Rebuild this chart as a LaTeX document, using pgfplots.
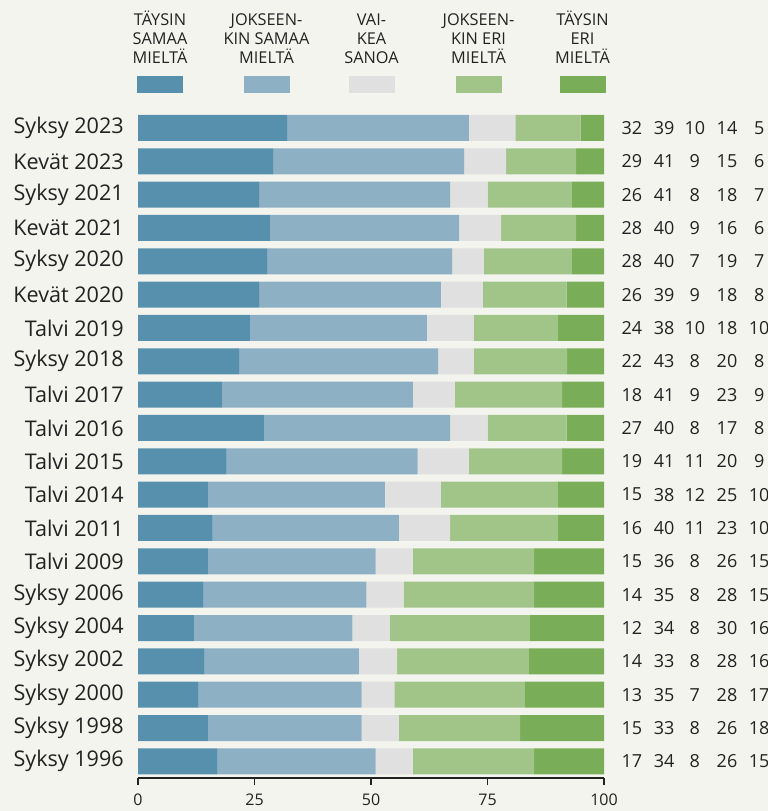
\documentclass[border=0pt]{standalone}
\usepackage{fontspec}
\setmainfont{Open Sans}
\usepackage{pgfplots}
\pgfplotsset{compat=1.18}
\usepackage{pgfplotstable}
\definecolor{bg}{HTML}{F4F4EF}
\definecolor{c1}{HTML}{5690AD}
\definecolor{c2}{HTML}{8DB0C4}
\definecolor{c3}{HTML}{E0E0E0}
\definecolor{c4}{HTML}{A1C589}
\definecolor{c5}{HTML}{79AD57}
\definecolor{txt}{HTML}{222222}

% y: 0 = Syksy 1996 (bottom) ... 19 = Syksy 2023 (top)
\pgfplotstableread{
y a b c d e
0 17 34 8 26 15
1 15 33 8 26 18
2 13 35 7 28 17
3 14.2 33.2 8.2 28.3 16.1
4 12 34 8 30 16
5 14 35 8 28 15
6 15 36 8 26 15
7 16 40 11 23 10
8 15 38 12 25 10
9 19 41 11 20 9
10 27 40 8 17 8
11 18 41 9 23 9
12 21.7 42.7 7.7 20 7.9
13 24 38 10 18 10
14 26 39 9 18 8
15 27.7 39.7 6.8 18.9 6.9
16 28.3 40.6 9 16.1 6
17 26 41 8 18 7
18 29 41 9 15 6
19 32 39 10 14 5
}\data

\newcommand\rl[6]{%
  \node[font=\fontsize{18}{20}\selectfont, text=txt] at (axis cs:106,#1) {#2};
  \node[font=\fontsize{18}{20}\selectfont, text=txt] at (axis cs:112.9,#1) {#3};
  \node[font=\fontsize{18}{20}\selectfont, text=txt] at (axis cs:119.5,#1) {#4};
  \node[font=\fontsize{18}{20}\selectfont, text=txt] at (axis cs:126.4,#1) {#5};
  \node[font=\fontsize{18}{20}\selectfont, text=txt] at (axis cs:133.3,#1) {#6};
}
\newcommand\leg[5]{%
  \node[anchor=base, font=\fontsize{16.3}{19}\selectfont, text=txt, inner sep=0pt] at (#1,-25) {#3};
  \node[anchor=base, font=\fontsize{16.3}{19}\selectfont, text=txt, inner sep=0pt] at (#1,-44.5) {#4};
  \node[anchor=base, font=\fontsize{16.3}{19}\selectfont, text=txt, inner sep=0pt] at (#1,-63.5) {#5};
  \fill[#2] (#1-23,-76) rectangle (#1+23,-92.7);
}

\begin{document}
\begin{tikzpicture}[x=1pt,y=1pt]
\useasboundingbox (0,0) rectangle (768,-811);
\fill[bg] (0,0) rectangle (768,-811);
\begin{axis}[
  at={(138pt,-778pt)}, anchor=south west,
  scale only axis, width=466pt, height=666.7pt,
  xbar stacked, bar width=26pt,
  xmin=0, xmax=100, ymin=-0.5, ymax=19.5,
  xtick={0,25,50,75,100},
  ytick={0,...,19},
  yticklabels={Syksy 1996, Syksy 1998, Syksy 2000, Syksy 2002, Syksy 2004, Syksy 2006, Talvi 2009, Talvi 2011, Talvi 2014, Talvi 2015, Talvi 2016, Talvi 2017, Syksy 2018, Talvi 2019, Kevät 2020, Syksy 2020, Kevät 2021, Syksy 2021, Kevät 2023, Syksy 2023},
  axis x line*=bottom, axis y line*=left,
  y axis line style={draw=none},
  x axis line style={draw=txt, line width=1.2pt},
  ytick style={draw=none},
  xtick align=outside,
  major tick length=7pt,
  xtick style={draw=txt, line width=1.2pt},
  yticklabel style={font=\fontsize{21.6}{24}\selectfont, text=txt, inner sep=0pt, xshift=-14pt},
  xticklabel style={font=\fontsize{16}{18}\selectfont, text=txt, inner sep=0pt, yshift=-9pt},
  /pgf/number format/assume math mode=true,
  clip=false,
]
\addplot[fill=c1, draw=none] table[x=a, y=y] {\data};
\addplot[fill=c2, draw=none] table[x=b, y=y] {\data};
\addplot[fill=c3, draw=none] table[x=c, y=y] {\data};
\addplot[fill=c4, draw=none] table[x=d, y=y] {\data};
\addplot[fill=c5, draw=none] table[x=e, y=y] {\data};
\rl{19}{32}{39}{10}{14}{5}
\rl{18}{29}{41}{9}{15}{6}
\rl{17}{26}{41}{8}{18}{7}
\rl{16}{28}{40}{9}{16}{6}
\rl{15}{28}{40}{7}{19}{7}
\rl{14}{26}{39}{9}{18}{8}
\rl{13}{24}{38}{10}{18}{10}
\rl{12}{22}{43}{8}{20}{8}
\rl{11}{18}{41}{9}{23}{9}
\rl{10}{27}{40}{8}{17}{8}
\rl{9}{19}{41}{11}{20}{9}
\rl{8}{15}{38}{12}{25}{10}
\rl{7}{16}{40}{11}{23}{10}
\rl{6}{15}{36}{8}{26}{15}
\rl{5}{14}{35}{8}{28}{15}
\rl{4}{12}{34}{8}{30}{16}
\rl{3}{14}{33}{8}{28}{16}
\rl{2}{13}{35}{7}{28}{17}
\rl{1}{15}{33}{8}{26}{18}
\rl{0}{17}{34}{8}{26}{15}
\end{axis}
\leg{160}{c1}{TÄYSIN}{SAMAA}{MIELTÄ}
\leg{266.5}{c2}{JOKSEEN-}{KIN SAMAA}{MIELTÄ}
\leg{371.5}{c3}{VAI-}{KEA}{SANOA}
\leg{478.5}{c4}{JOKSEEN-}{KIN ERI}{MIELTÄ}
\leg{582.5}{c5}{TÄYSIN}{ERI}{MIELTÄ}
\end{tikzpicture}
\end{document}
